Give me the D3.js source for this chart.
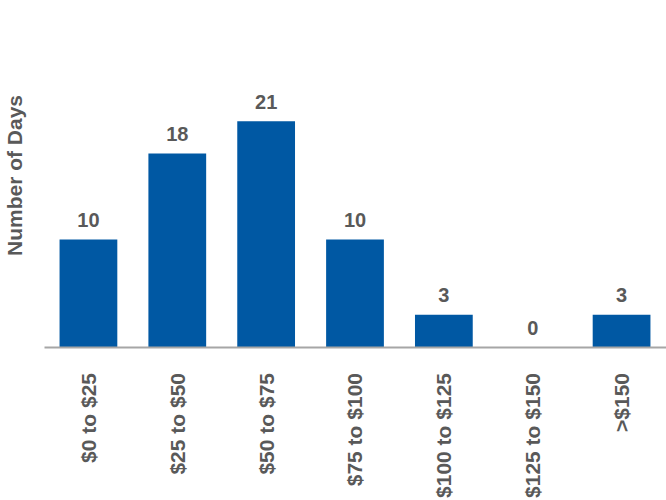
<!DOCTYPE html>
<html>
<head>
<meta charset="utf-8">
<script src="https://cdn.jsdelivr.net/npm/d3@7"></script>
<style>
  html, body { margin: 0; padding: 0; background: #fff; }
  svg { display: block; }
  text { font-family: "Liberation Sans", Arial, sans-serif; font-weight: bold; fill: #595959; }
</style>
</head>
<body>
<script>
const categories = ["$0 to $25", "$25 to $50", "$50 to $75", "$75 to $100", "$100 to $125", "$125 to $150", ">$150"];
const days = [10, 18, 21, 10, 3, 0, 3];
const yTitle = "Number of Days";

const W = 666, H = 500;
const baseY = 347;
const svg = d3.select("body").append("svg").attr("width", W).attr("height", H);

const x = d3.scaleBand().domain(categories).range([44, 666]).paddingInner(0.35).paddingOuter(0.175);
const y = d3.scaleLinear().domain([0, 25]).range([baseY, baseY - 25 * 10.75]);

svg.selectAll("rect.bar").data(days).join("rect")
  .attr("class", "bar")
  .attr("x", (d, i) => x(categories[i]))
  .attr("width", x.bandwidth())
  .attr("y", d => y(d))
  .attr("height", d => y(0) - y(d))
  .attr("fill", "#0058a3");

svg.selectAll("text.val").data(days).join("text")
  .attr("class", "val")
  .attr("x", (d, i) => x(categories[i]) + x.bandwidth() / 2)
  .attr("y", d => y(d) - 12.5)
  .attr("text-anchor", "middle")
  .style("font-size", "20px")
  .text(d => d);

// axis baseline
const xAxis = d3.axisBottom(x).tickSize(0).tickFormat("");
const gx = svg.append("g").attr("transform", `translate(0,${baseY})`).call(xAxis);
gx.select(".domain").attr("stroke", "#a6a6a6").attr("stroke-width", 2);

svg.selectAll("text.cat").data(categories).join("text")
  .attr("class", "cat")
  .attr("transform", d => `translate(${x(d) + x.bandwidth() / 2},373) rotate(-90)`)
  .attr("text-anchor", "end")
  .attr("dy", "0.35em")
  .style("font-size", "21px")
  .text(d => d);

svg.append("text")
  .attr("transform", "translate(22,175.5) rotate(-90)")
  .attr("text-anchor", "middle")
  .style("font-size", "21px")
  .text(yTitle);
</script>
</body>
</html>
